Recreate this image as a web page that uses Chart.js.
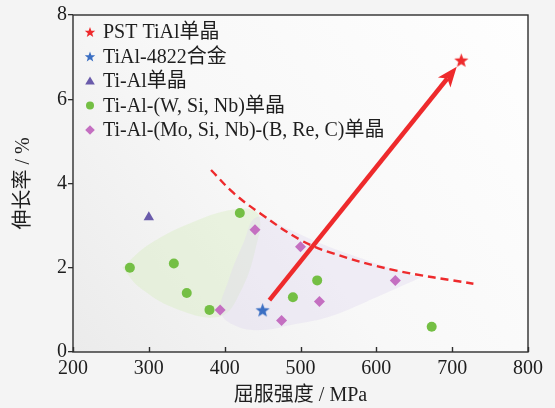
<!DOCTYPE html>
<html>
<head>
<meta charset="utf-8">
<script src="https://cdn.jsdelivr.net/npm/chart.js@4.4.1/dist/chart.umd.min.js"></script>
<style>
  html, body { margin: 0; padding: 0; background: #f4f4f4; }
  #wrap { width: 555px; height: 408px; }
</style>
</head>
<body>
<div id="wrap"><canvas id="myChart" width="555" height="408"></canvas></div>
<script>
// data
const pstX = [712];
const pstY = [6.93];
const tial4822X = [450];
const tial4822Y = [1.0];
const tiAlX = [300];
const tiAlY = [3.2];
const wSiNbX = [275, 333, 350, 380, 420, 490, 522, 673];
const wSiNbY = [2.0, 2.1, 1.4, 1.0, 3.3, 1.3, 1.7, 0.6];
const moSiNbX = [394, 440, 500, 475, 525, 625];
const moSiNbY = [1.0, 2.9, 2.5, 0.75, 1.2, 1.7];

// dashed trade-off curve
const curveX = [382, 412, 447, 500, 543, 622, 728];
const curveY = [4.32, 3.77, 3.29, 2.66, 2.34, 1.95, 1.62];

// arrow from TiAl-4822 to PST
const arrowX = [459, 706];
const arrowY = [1.23, 6.77];

// shaded areas
const greenX = [265, 300, 360, 420, 445, 440, 420, 395, 340, 290, 265];
const greenY = [2.0, 2.55, 3.1, 3.4, 3.25, 2.4, 1.4, 0.85, 1.0, 1.5, 2.0];
const purpleX = [658, 600, 530, 480, 442, 425, 405, 395, 415, 450, 490, 540, 600, 658];
const purpleY = [1.76, 2.1, 2.55, 2.95, 3.2, 2.6, 1.7, 0.95, 0.62, 0.52, 0.65, 0.85, 1.3, 1.76];

const xTicks = [200, 300, 400, 500, 600, 700, 800];
const yTicks = [0, 2, 4, 6, 8];

const labels = ['PST TiAl单晶', 'TiAl-4822合金', 'Ti-Al单晶', 'Ti-Al-(W, Si, Nb)单晶', 'Ti-Al-(Mo, Si, Nb)-(B, Re, C)单晶'];

const serif = "'Liberation Serif', 'Times New Roman', 'Noto Sans CJK SC', serif";
const RED = '#ee2a2c';

function pts(xs, ys) {
  return xs.map((x, i) => ({ x: x, y: ys[i] }));
}

function starPath(ctx, cx, cy, r) {
  ctx.beginPath();
  for (let i = 0; i < 10; i++) {
    const rr = i % 2 === 0 ? r : r * 0.42;
    const a = -Math.PI / 2 + i * Math.PI / 5;
    const px = cx + rr * Math.cos(a), py = cy + rr * Math.sin(a);
    if (i === 0) ctx.moveTo(px, py); else ctx.lineTo(px, py);
  }
  ctx.closePath();
}

function makeStar(color, r) {
  const c = document.createElement('canvas');
  c.width = Math.ceil(r * 2 + 2);
  c.height = Math.ceil(r * 2 + 2);
  const g = c.getContext('2d');
  g.fillStyle = color;
  starPath(g, c.width / 2, c.height / 2 + r * 0.1, r);
  g.fill();
  return c;
}

const redStar = makeStar(RED, 7.5);
const blueStar = makeStar('#3b6fc3', 7.5);

// background + frame + arrow + legend
const decor = {
  id: 'decor',
  beforeDraw(chart) {
    const ctx = chart.ctx, a = chart.chartArea;
    ctx.save();
    ctx.fillStyle = '#f4f4f4';
    ctx.fillRect(0, 0, chart.width, chart.height);
    const g = ctx.createLinearGradient(a.left, a.bottom, a.right, a.top);
    g.addColorStop(0, '#ebebeb');
    g.addColorStop(0.45, '#f8f8f8');
    g.addColorStop(1, '#fefefe');
    ctx.fillStyle = g;
    ctx.fillRect(a.left, a.top, a.right - a.left, a.bottom - a.top);
    ctx.restore();
  },
  afterDatasetsDraw(chart) {
    const ctx = chart.ctx, a = chart.chartArea;
    const xs = chart.scales.x, ys = chart.scales.y;

    // arrow
    const x0 = xs.getPixelForValue(arrowX[0]), y0 = ys.getPixelForValue(arrowY[0]);
    const x1 = xs.getPixelForValue(arrowX[1]), y1 = ys.getPixelForValue(arrowY[1]);
    const ang = Math.atan2(y1 - y0, x1 - x0);
    const headLen = 18, headW = 8;
    const bx = x1 - headLen * Math.cos(ang), by = y1 - headLen * Math.sin(ang);
    ctx.save();
    ctx.strokeStyle = RED;
    ctx.fillStyle = RED;
    ctx.lineWidth = 4.5;
    ctx.beginPath();
    ctx.moveTo(x0, y0);
    ctx.lineTo(bx + 3 * Math.cos(ang), by + 3 * Math.sin(ang));
    ctx.stroke();
    const nx = -Math.sin(ang), ny = Math.cos(ang);
    ctx.beginPath();
    ctx.moveTo(x1, y1);
    ctx.lineTo(bx + nx * headW - 2 * Math.cos(ang), by + ny * headW - 2 * Math.sin(ang));
    ctx.lineTo(bx + 3 * Math.cos(ang), by + 3 * Math.sin(ang));
    ctx.lineTo(bx - nx * headW - 2 * Math.cos(ang), by - ny * headW - 2 * Math.sin(ang));
    ctx.closePath();
    ctx.fill();
    ctx.restore();

    // frame
    ctx.save();
    ctx.strokeStyle = '#2e2e2e';
    ctx.lineWidth = 1.4;
    ctx.strokeRect(a.left, a.top, a.right - a.left, a.bottom - a.top);
    // inward ticks on x axis
    ctx.beginPath();
    xTicks.forEach(v => {
      const px = Math.round(xs.getPixelForValue(v)) + 0.5;
      ctx.moveTo(px, a.bottom);
      ctx.lineTo(px, a.bottom - 5);
    });
    ctx.stroke();
    ctx.restore();

    // legend
    ctx.save();
    ctx.font = '20px ' + serif;
    ctx.fillStyle = '#1e1e1e';
    ctx.textBaseline = 'middle';
    const lx = 90, tx = 103;
    const rows = [32, 56.5, 81, 105.5, 130];
    rows.forEach((y, i) => {
      if (i === 0 || i === 1) {
        ctx.fillStyle = i === 0 ? RED : '#3b6fc3';
        starPath(ctx, lx, y + 0.5, 5.5);
        ctx.fill();
      } else if (i === 2) {
        ctx.fillStyle = '#6a5bab';
        ctx.beginPath();
        ctx.moveTo(lx, y - 4.5);
        ctx.lineTo(lx + 4.8, y + 3.5);
        ctx.lineTo(lx - 4.8, y + 3.5);
        ctx.closePath();
        ctx.fill();
      } else if (i === 3) {
        ctx.fillStyle = '#74bf44';
        ctx.beginPath();
        ctx.arc(lx, y, 4, 0, Math.PI * 2);
        ctx.fill();
      } else {
        ctx.fillStyle = '#c46fc1';
        ctx.beginPath();
        ctx.moveTo(lx, y - 4.8);
        ctx.lineTo(lx + 4.8, y);
        ctx.lineTo(lx, y + 4.8);
        ctx.lineTo(lx - 4.8, y);
        ctx.closePath();
        ctx.fill();
      }
      ctx.fillStyle = '#1e1e1e';
      ctx.fillText(labels[i], tx, y + 1);
    });
    ctx.restore();
  }
};

const ctx = document.getElementById('myChart').getContext('2d');
new Chart(ctx, {
  type: 'scatter',
  data: {
    datasets: [
      {
        data: pts(greenX, greenY),
        showLine: true, tension: 0.4, fill: 'shape',
        backgroundColor: 'rgba(214, 236, 186, 0.38)',
        borderColor: 'rgba(0,0,0,0)', borderWidth: 0,
        pointRadius: 0, order: 20
      },
      {
        data: pts(purpleX, purpleY),
        showLine: true, tension: 0.4, fill: 'shape',
        backgroundColor: 'rgba(224, 216, 238, 0.38)',
        borderColor: 'rgba(0,0,0,0)', borderWidth: 0,
        pointRadius: 0, order: 19
      },
      {
        data: pts(curveX, curveY),
        showLine: true, tension: 0.4, fill: false,
        borderColor: RED, borderWidth: 2.4, borderDash: [8, 5],
        pointRadius: 0, order: 10
      },
      {
        label: labels[3],
        data: pts(wSiNbX, wSiNbY),
        pointStyle: 'circle', pointRadius: 5,
        backgroundColor: '#74bf44', borderWidth: 0, order: 4
      },
      {
        label: labels[4],
        data: pts(moSiNbX, moSiNbY),
        pointStyle: 'rectRot', pointRadius: 5.5,
        backgroundColor: '#c46fc1', borderWidth: 0, order: 3
      },
      {
        label: labels[2],
        data: pts(tiAlX, tiAlY),
        pointStyle: 'triangle', pointRadius: 6,
        backgroundColor: '#6a5bab', borderWidth: 0, order: 2
      },
      {
        label: labels[1],
        data: pts(tial4822X, tial4822Y),
        pointStyle: blueStar, order: 1
      },
      {
        label: labels[0],
        data: pts(pstX, pstY),
        pointStyle: redStar, order: 1
      }
    ]
  },
  options: {
    responsive: false,
    animation: false,
    layout: { padding: { top: 15, right: 27, left: 0, bottom: 0 } },
    plugins: {
      legend: { display: false },
      tooltip: { enabled: false }
    },
    scales: {
      x: {
        type: 'linear', min: 200, max: 800,
        afterFit: s => { s.height = 56; },
        afterBuildTicks: s => { s.ticks = xTicks.map(v => ({ value: v })); },
        grid: { display: false },
        border: { display: false },
        ticks: { color: '#1e1e1e', font: { size: 20, family: serif }, padding: -3, maxRotation: 0 },
        title: { display: true, text: '屈服强度 / MPa', color: '#1e1e1e', font: { size: 20, family: serif }, padding: { top: 6, bottom: 0 } }
      },
      y: {
        min: 0, max: 8,
        afterFit: s => { s.width = 73; },
        afterBuildTicks: s => { s.ticks = yTicks.map(v => ({ value: v })); },
        grid: { drawOnChartArea: false, drawTicks: true, tickLength: 5, color: '#2e2e2e', lineWidth: 1.3 },
        border: { display: false },
        ticks: { color: '#1e1e1e', font: { size: 20, family: serif }, padding: 1 },
        title: { display: true, text: '伸长率 / %', color: '#1e1e1e', font: { size: 20, family: serif }, padding: { top: 12, bottom: 0 } }
      }
    }
  },
  plugins: [decor]
});
</script>
</body>
</html>
